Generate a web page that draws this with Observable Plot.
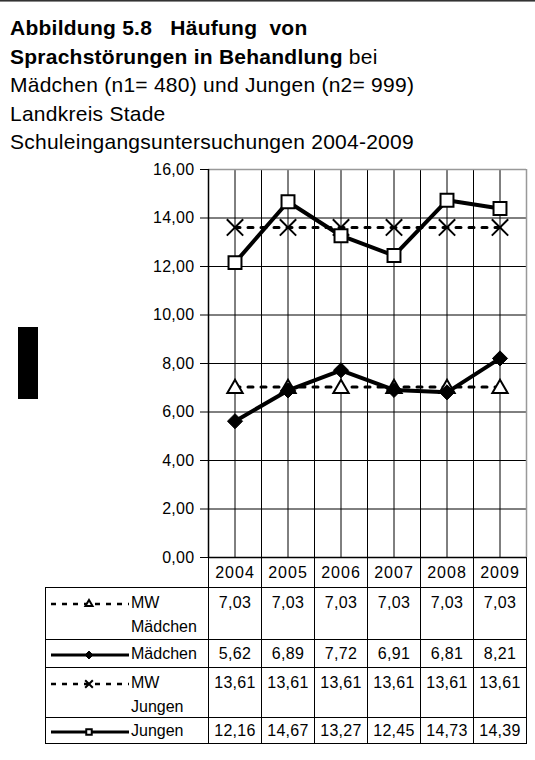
<!DOCTYPE html>
<html>
<head>
<meta charset="utf-8">
<script src="https://cdn.jsdelivr.net/npm/d3@7"></script>
<script src="https://cdn.jsdelivr.net/npm/@observablehq/plot@0.6"></script>
<style>
  html, body { margin: 0; padding: 0; background: #fff; }
  body { font-family: "Liberation Sans", Arial, Helvetica, sans-serif; color: #000; }
  #wrap { position: relative; width: 535px; height: 760px; overflow: hidden; }
  #topline { position: absolute; left: 0; top: 0; width: 535px; height: 1px; background: #333; border-bottom: 1px solid #888; }
  #title { position: absolute; left: 10px; top: 14px; font-size: 21px; letter-spacing: 0.25px; }
  #title div { height: 28.5px; line-height: 28.5px; white-space: pre; }
  #title .b { font-weight: bold; }
  #blk { position: absolute; left: 18px; top: 327px; width: 20px; height: 72px; background: #000; }
  #chart { position: absolute; left: 0; top: 155px; }
  #chart svg text { letter-spacing: 0.3px; }
  #tbl { position: absolute; left: 45px; top: 557px; border-collapse: collapse; table-layout: fixed; font-size: 16px; }
  #tbl td { border: 1px solid #000; padding: 0; text-align: center; letter-spacing: 0.3px; }
  #tbl td.empty { border: none; border-bottom: 1px solid #000; }
  #tbl td.yr { font-size: 16px; letter-spacing: 1px; height: 29px; }
  #tbl td.lg { position: relative; text-align: left; }
  #tbl td.top { vertical-align: top; }
  .lgsvg { position: absolute; left: 4px; }
  .lglab { position: absolute; left: 85px; font-size: 16px; line-height: 24px; letter-spacing: 0; }
</style>
</head>
<body>
<div id="wrap">
  <div id="topline"></div>
  <div id="title"></div>
  <div id="blk"></div>
  <div id="chart"></div>
  <table id="tbl"></table>
</div>
<script>
// ---- data ----
const years = [2004, 2005, 2006, 2007, 2008, 2009];
const mwMaedchen = [7.03, 7.03, 7.03, 7.03, 7.03, 7.03];
const maedchen = [5.62, 6.89, 7.72, 6.91, 6.81, 8.21];
const mwJungen = [13.61, 13.61, 13.61, 13.61, 13.61, 13.61];
const jungen = [12.16, 14.67, 13.27, 12.45, 14.73, 14.39];
const yTicks = [0, 2, 4, 6, 8, 10, 12, 14, 16];
const seriesLabels = [["MW", "Mädchen"], ["Mädchen"], ["MW", "Jungen"], ["Jungen"]];
// title lines: [bold part, normal part]
const titleLines = [
  ["Abbildung 5.8   Häufung  von", ""],
  ["Sprachstörungen in Behandlung", " bei"],
  ["", "Mädchen (n1= 480) und Jungen (n2= 999)"],
  ["", "Landkreis Stade"],
  ["", "Schuleingangsuntersuchungen 2004-2009"]
];

const fmt = v => v.toFixed(2).replace(".", ",");
const title = d3.select("#title");
titleLines.forEach(([b, n]) => {
  const line = title.append("div");
  if (b) line.append("span").attr("class", "b").text(b);
  if (n) line.append("span").text(n);
});

const tab = (arr) => years.map((yr, i) => ({year: yr, value: arr[i]}));
const dMWM = tab(mwMaedchen), dM = tab(maedchen), dMWJ = tab(mwJungen), dJ = tab(jungen);

const x0 = years[0] - 0.5, x1 = years[years.length - 1] + 0.5;
const gridX = years.flatMap(y => [y - 0.5, y]);

const chart = Plot.plot({
  width: 535,
  height: 405,
  marginLeft: 208,
  marginRight: 9,
  marginTop: 14,
  marginBottom: 3,
  style: {fontFamily: '"Liberation Sans", Arial, sans-serif', fontSize: "16px", color: "#000", background: "transparent", overflow: "visible"},
  x: {domain: [x0, x1], axis: null},
  y: {domain: [0, 16], axis: null},
  marks: [
    Plot.ruleY(yTicks.slice(1, -1), {stroke: "#000", strokeWidth: 1}),
    Plot.ruleX(gridX.slice(1), {stroke: "#000", strokeWidth: 1}),
    Plot.ruleY([16], {stroke: "#999", strokeWidth: 1.5}),
    Plot.ruleX([x1], {stroke: "#999", strokeWidth: 1.5}),
    Plot.ruleX([x0], {stroke: "#000", strokeWidth: 1.5}),
    Plot.ruleY([0], {stroke: "#000", strokeWidth: 1.5}),
    Plot.axisY({ticks: yTicks, tickFormat: fmt, tickSize: 8, tickPadding: 6, fontSize: 16, label: null, stroke: "#000"}),
    // mean lines
    Plot.line(dMWJ, {x: "year", y: "value", stroke: "#000", strokeWidth: 3, strokeDasharray: "5,8"}),
    Plot.dot(dMWJ, {x: "year", y: "value", symbol: "times", r: 7.5, stroke: "#000", strokeWidth: 2}),
    Plot.line(dMWM, {x: "year", y: "value", stroke: "#000", strokeWidth: 3, strokeDasharray: "5,8"}),
    Plot.dot(dMWM, {x: "year", y: "value", symbol: "triangle", r: 5.7, fill: "#fff", stroke: "#000", strokeWidth: 2, dy: 1.5}),
    // series
    Plot.line(dJ, {x: "year", y: "value", stroke: "#000", strokeWidth: 4}),
    Plot.dot(dJ, {x: "year", y: "value", symbol: "square", r: 7.3, fill: "#fff", stroke: "#000", strokeWidth: 2}),
    Plot.line(dM, {x: "year", y: "value", stroke: "#000", strokeWidth: 4}),
    Plot.dot(dM, {x: "year", y: "value", symbol: "diamond2", r: 6.8, fill: "#000", stroke: "#000", strokeWidth: 1})
  ]
});
document.getElementById("chart").appendChild(chart);

// ---- data table ----
const tbl = d3.select("#tbl");
const cg = tbl.append("colgroup");
cg.append("col").style("width", "163px");
years.forEach(() => cg.append("col").style("width", "53px"));
const hdr = tbl.append("tr");
hdr.append("td").attr("class", "empty");
years.forEach(y => hdr.append("td").attr("class", "yr").text(y));

const rows = [
  {lab: seriesLabels[0], vals: mwMaedchen, h: 52, dash: true, sym: "triangle", fill: "#fff"},
  {lab: seriesLabels[1], vals: maedchen, h: 28, dash: false, sym: "diamond2", fill: "#000"},
  {lab: seriesLabels[2], vals: mwJungen, h: 50, dash: true, sym: "times", fill: "none"},
  {lab: seriesLabels[3], vals: jungen, h: 26, dash: false, sym: "square", fill: "#fff"}
];
const symMap = {triangle: d3.symbolTriangle, diamond2: d3.symbolDiamond2, times: d3.symbolTimes, square: d3.symbolSquare};
const symSize = {triangle: 22, diamond2: 40, times: 40, square: 30};

rows.forEach(r => {
  const tr = tbl.append("tr").style("height", r.h + "px");
  const two = r.lab.length > 1;
  const td = tr.append("td").attr("class", "lg" + (two ? " top" : ""));
  const lineTop = two ? 3 : (r.h - 24) / 2;
  const svg = td.append("svg").attr("class", "lgsvg").attr("width", 80).attr("height", 14)
    .style("top", (lineTop + 12 - 7 + 1) + "px");
  svg.append("line").attr("x1", 1).attr("x2", 79).attr("y1", 7).attr("y2", 7)
    .attr("stroke", "#000").attr("stroke-width", r.dash ? 2.5 : 3)
    .attr("stroke-dasharray", r.dash ? "5,6" : null);
  svg.append("path").attr("transform", "translate(39,7)")
    .attr("d", d3.symbol(symMap[r.sym], symSize[r.sym])())
    .attr("fill", r.fill === "none" ? "none" : r.fill)
    .attr("stroke", "#000").attr("stroke-width", r.sym === "diamond2" ? 1 : 2);
  td.append("div").attr("class", "lglab").style("top", lineTop + "px").html(r.lab.join("<br>"));
  r.vals.forEach(v => {
    const c = tr.append("td").text(fmt(v));
    if (two) c.attr("class", "top").style("padding-top", "3px").style("line-height", "24px");
  });
});
</script>
</body>
</html>
